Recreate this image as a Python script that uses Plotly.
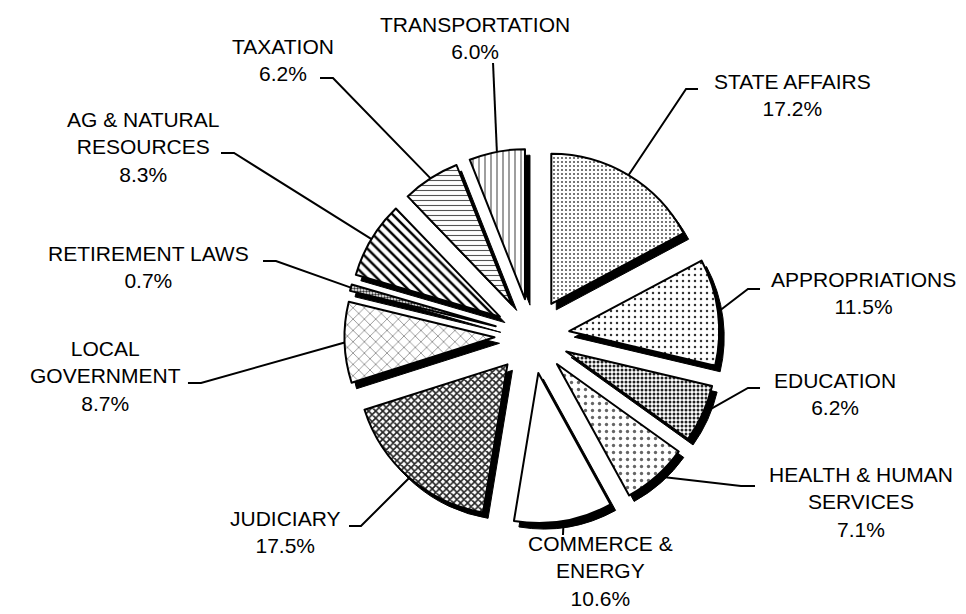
import math

import plotly.graph_objects as go

# --- data --------------------------------------------------------------------
categories = [
    "STATE AFFAIRS", "APPROPRIATIONS", "EDUCATION", "HEALTH & HUMAN<br>SERVICES",
    "COMMERCE &<br>ENERGY", "JUDICIARY", "LOCAL<br>GOVERNMENT", "RETIREMENT LAWS",
    "AG & NATURAL<br>RESOURCES", "TAXATION", "TRANSPORTATION",
]
shares = [17.2, 11.5, 6.2, 7.1, 10.6, 17.5, 8.7, 0.7, 8.3, 6.2, 6.0]

# --- styles (one per slice, same order) --------------------------------------
pat_shape = [".", ".", ".", ".", "", "x", "x", ".", "\\", "-", "|"]
pat_size = [4, 6, 4, 7, 8, 5, 8, 3, 7, 5, 6]
pat_solid = [0.22, 0.14, 0.45, 0.18, 0.3, 0.55, 0.14, 0.5, 0.35, 0.22, 0.16]
pat_fg = ["#555", "#333", "#222", "#666", "#000", "#222", "#555", "#333", "#000", "#555", "#333"]

# label block centre (px) and the leader path from the slice to the text
label_layout = [
    ((784, 87), [(678, 81), (690, 81)]),
    ((855, 285), [(740, 281), (752, 281)]),
    ((827, 386), [(740, 380), (752, 380)]),
    ((853, 494), [(733, 478), (747, 478)]),
    ((592, 563), [(555, 527)]),
    ((277, 524), [(353, 518), (341, 518)]),
    ((97, 368), [(193, 375), (180, 375)]),
    ((140, 259), [(268, 253), (255, 253)]),
    ((135, 139), [(226, 145), (213, 145)]),
    ((275, 52), [(325, 70), (312, 70)]),
    ((467, 30), [(485, 55)]),
]

W, H = 966, 614
CX, CY = 524, 328  # pie centre in px
R = 150
PULL = 0.25
SHADOW = (5, 6)
FONT = "Liberation Sans, Arial, sans-serif"


def px(x, y):
    return x / W, 1 - y / H


def domain(dx=0, dy=0):
    half = R * (1 + PULL)
    return dict(
        x=[(CX + dx - half) / W, (CX + dx + half) / W],
        y=[1 - (CY + dy + half) / H, 1 - (CY + dy - half) / H],
    )


fig = go.Figure()

# drop shadow
fig.add_trace(go.Pie(
    values=shares, labels=categories, sort=False, direction="clockwise",
    pull=[PULL] * len(shares), domain=domain(*SHADOW),
    marker=dict(colors=["#000"] * len(shares), line=dict(color="#000", width=1)),
    textinfo="none", hoverinfo="skip", showlegend=False,
))

fig.add_trace(go.Pie(
    values=shares, labels=categories, sort=False, direction="clockwise",
    pull=[PULL] * len(shares), domain=domain(),
    marker=dict(
        colors=["#fff"] * len(shares),
        line=dict(color="#000", width=2),
        pattern=dict(shape=pat_shape, size=pat_size, solidity=pat_solid,
                     fgcolor=pat_fg, bgcolor="#fff"),
    ),
    textinfo="none", showlegend=False,
))

total = sum(shares)
cum = 0
shapes, annotations = [], []
for cat, val, ((tx, ty), knees) in zip(categories, shares, label_layout):
    theta = 2 * math.pi * (cum + val / 2) / total
    cum += val
    sx = CX + R * (1 + PULL) * math.sin(theta)
    sy = CY - R * (1 + PULL) * math.cos(theta)
    pts = [px(sx, sy)] + [px(*k) for k in knees]
    path = "M " + " L ".join(f"{x:.4f},{y:.4f}" for x, y in pts)
    shapes.append(dict(type="path", xref="paper", yref="paper", path=path,
                       line=dict(color="#000", width=2)))
    x, y = px(tx, ty)
    annotations.append(dict(
        x=x, y=y, xref="paper", yref="paper", showarrow=False,
        xanchor="center", yanchor="middle", align="center",
        text=f"{cat}<br>{val:.1f}%",
        font=dict(family=FONT, size=21, color="#000"),
    ))

fig.update_layout(
    width=W, height=H,
    margin=dict(l=0, r=0, t=0, b=0),
    paper_bgcolor="#fff", plot_bgcolor="#fff",
    shapes=shapes, annotations=annotations,
)

fig.write_html("out.html")
